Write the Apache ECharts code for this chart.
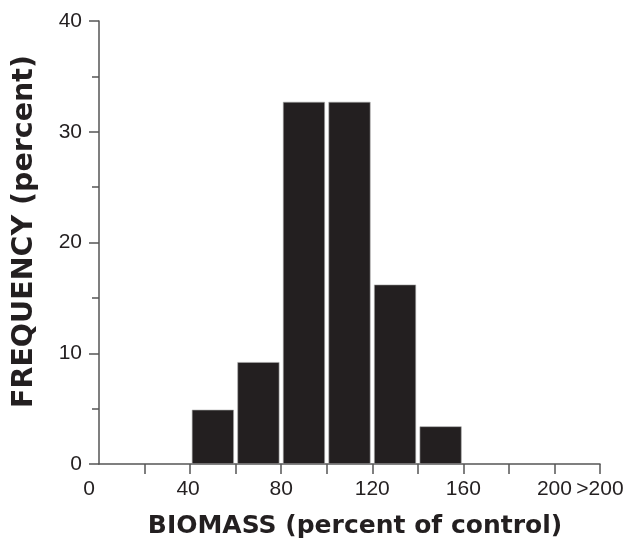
<!DOCTYPE html>
<html>
<head>
<meta charset="utf-8">
<script src="https://cdn.jsdelivr.net/npm/echarts@6/dist/echarts.min.js"></script>
<style>html,body{margin:0;padding:0;background:#fff;}#c{width:629px;height:550px;}</style>
</head>
<body>
<div id="c"></div>
<script>
// Bin centres (percent of control) and frequencies (percent)
const binCenters = [50, 70, 90, 110, 130, 150];
const frequencies = [4.9, 9.2, 32.7, 32.7, 16.2, 3.4];
const xTickLabels = ['0', '40', '80', '120', '160', '200', '>200'];
const xTickValues = [0, 40, 80, 120, 160, 200, 220];
const yTickValues = [0, 10, 20, 30, 40];

const chart = echarts.init(document.getElementById('c'), null, {renderer: 'canvas'});
const font = 'Liberation Sans, Arial, Helvetica, sans-serif';
const titleFont = 'DejaVu Sans, Verdana, sans-serif';
const ink = '#231f20';
const axisCol = '#555';
chart.setOption({
  animation: false,
  backgroundColor: '#fff',
  grid: {left: 99, right: 29, top: 21, bottom: 86},
  xAxis: {
    type: 'value', min: 0, max: 220, interval: 20,
    name: 'BIOMASS (percent of control)',
    nameLocation: 'middle', nameGap: 50,
    nameTextStyle: {fontFamily: titleFont, fontSize: 25, fontWeight: 'bold', color: ink, padding: [0, 0, 0, 11]},
    axisLine: {show: true, lineStyle: {color: axisCol, width: 1.5}},
    axisTick: {show: true, length: 10, lineStyle: {color: axisCol, width: 1.5},
      customValues: [20, 40, 60, 80, 100, 120, 140, 160, 180, 200, 220]},
    splitLine: {show: false},
    axisLabel: {
      margin: 15, fontFamily: font, fontSize: 21, color: ink,
      showMaxLabel: true, showMinLabel: true,
      customValues: xTickValues,
      formatter: function (v) {
        const i = xTickValues.indexOf(v);
        if (i < 0) return '';
        if (v === 0) return '{z|' + xTickLabels[i] + '}';
        if (v === 40) return '{f|' + xTickLabels[i] + '}';
        return xTickLabels[i];
      },
      rich: {
        z: {fontFamily: font, fontSize: 21, color: ink, padding: [0, 20, 0, 0]},
        f: {fontFamily: font, fontSize: 21, color: ink, padding: [0, 4, 0, 0]}
      }
    }
  },
  yAxis: {
    type: 'value', min: 0, max: 40, interval: 10,
    name: 'FREQUENCY (percent)',
    nameLocation: 'middle', nameGap: 60, nameRotate: 90,
    nameTextStyle: {fontFamily: titleFont, fontSize: 28.5, fontWeight: 'bold', color: ink, padding: [0, 0, 0, 22]},
    axisLine: {show: true, lineStyle: {color: axisCol, width: 1.5}},
    axisTick: {show: true, length: 10, lineStyle: {color: axisCol, width: 1.5}},
    minorTick: {show: true, splitNumber: 2, length: 7, lineStyle: {color: axisCol, width: 1.5}},
    splitLine: {show: false},
    axisLabel: {margin: 17, fontFamily: font, fontSize: 21, color: ink,
      formatter: function (v) { return yTickValues.indexOf(v) >= 0 ? String(v) : ''; }}
  },
  series: [{
    type: 'bar',
    barWidth: 42,
    data: binCenters.map((c, i) => [c, frequencies[i]]),
    itemStyle: {color: ink, borderColor: '#aaa', borderWidth: 0.6}
  }]
});
</script>
</body>
</html>
